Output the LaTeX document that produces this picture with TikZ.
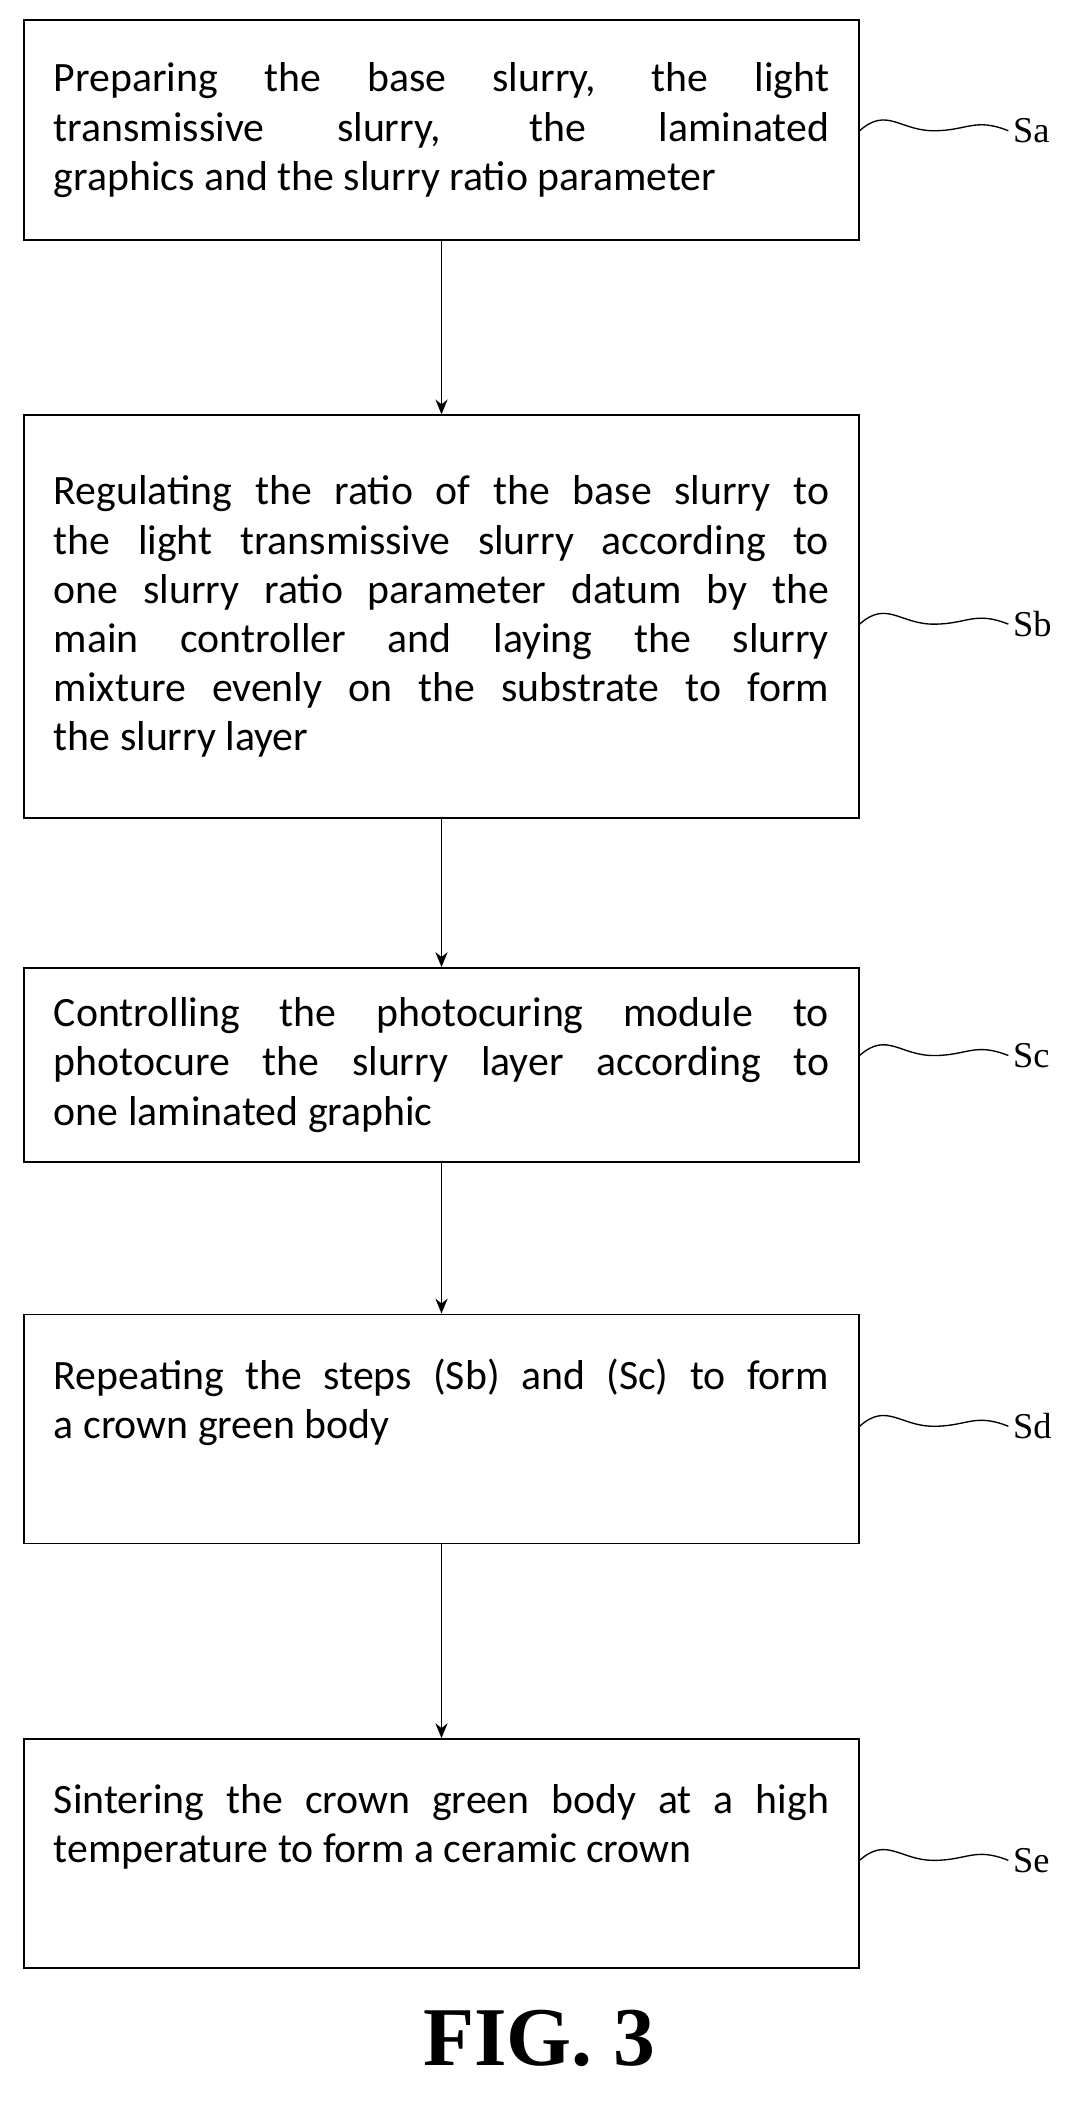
\documentclass[tikz,border=0pt]{standalone}
\usepackage{fontspec}
\setmainfont{Carlito}
\newfontfamily\lblfont{Liberation Serif}
\usetikzlibrary{arrows.meta}
\begin{document}
\begin{tikzpicture}[x=1pt,y=-1pt,
  box/.style={draw,line width=1.3pt,minimum width=619pt,text width=575pt,align=justify,font=\fontsize{31}{36.5}\selectfont,inner sep=0pt},
  arr/.style={-{Stealth[length=11pt,width=9pt]},line width=1.2pt},
  sq/.style={line width=1pt},
  lbl/.style={font=\lblfont\fontsize{27}{30}\selectfont,anchor=west}]
\useasboundingbox (0,0) rectangle (800,1560);
\node[box,minimum height=163pt] (a) at (327.5,96.5) {Preparing the base slurry, the light\linebreak transmissive slurry, the laminated\linebreak graphics and the slurry ratio parameter};
\node[box,minimum height=299pt] (b) at (327.5,457.5) {Regulating the ratio of the base slurry to\linebreak the light transmissive slurry according to\linebreak one slurry ratio parameter datum by the\linebreak main controller and laying the slurry\linebreak mixture evenly on the substrate to form\linebreak the slurry layer};
\node[box,minimum height=144pt] (c) at (327.5,790) {Controlling the photocuring module to\linebreak photocure the slurry layer according to\linebreak one laminated graphic};
\node[box,minimum height=170pt] (d) at (327.5,1060) {Repeating the steps (Sb) and (Sc) to form\linebreak a crown green body\\[8pt]};
\node[box,minimum height=170pt] (e) at (327.5,1375) {Sintering the crown green body at a high\linebreak temperature to form a ceramic crown\\[8pt]};
\draw[arr] (a.south) -- (b.north);
\draw[arr] (b.south) -- (c.north);
\draw[arr] (c.south) -- (d.north);
\draw[arr] (d.south) -- (e.north);
\foreach \n/\t/\y in {a/Sa/97,b/Sb/463,c/Sc/783,d/Sd/1058,e/Se/1380}{
  \node[lbl] (l\n) at (748,\y) {\t};
  \draw[sq] (\n.east |- 0,\y) .. controls +(20,-18) and +(-25,0) .. +(55,0) .. controls +(25,0) and +(-25,-10) .. (l\n.west);
}
\node[font=\lblfont\bfseries\fontsize{62}{62}\selectfont] (fig) at (400,1512) {FIG. 3};
\end{tikzpicture}
\end{document}
